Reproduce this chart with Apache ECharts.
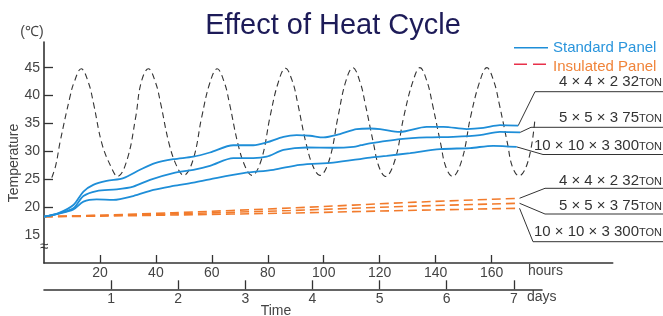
<!DOCTYPE html>
<html>
<head>
<meta charset="utf-8">
<script src="https://cdn.jsdelivr.net/npm/echarts@6/dist/echarts.min.js"></script>
<style>
  html, body { margin: 0; padding: 0; background: #fff; }
  #main { width: 663px; height: 316px; }
</style>
</head>
<body>
<div id="main"></div>
<script>
// outside air temperature cycle [hour, °C]
var cycleTemp = [
  [2.8, 25.3], [4.2, 27.5], [5.8, 31.8], [9.3, 39.8], [10.7, 42.3], [13.3, 44.8],
  [15.9, 42.3], [17.7, 38.6], [20.7, 31.4], [23.9, 27.3], [26.3, 25.5],
  [29.7, 28.5], [32.8, 36.2], [34.7, 42.3], [37.3, 44.8],
  [39.9, 42.3], [41.7, 38.6], [44.7, 31.4], [47.5, 27.3], [49.9, 25.7],
  [53.3, 28.5], [56.4, 36.2], [59.3, 42.3], [61.9, 44.8],
  [64.5, 42.3], [66.3, 38.6], [69.3, 31.4], [71.9, 27.3], [74.3, 25.7],
  [77.7, 28.5], [80.8, 36.2], [83.7, 42.3], [86.3, 44.9],
  [88.9, 42.4], [90.7, 38.6], [93.7, 31.4], [96.2, 27.3], [98.6, 25.7],
  [102.0, 28.5], [105.1, 36.2], [107.8, 42.4], [110.4, 45.0],
  [113.0, 42.4], [114.8, 38.6], [117.8, 31.4], [119.7, 27.3], [122.1, 25.5],
  [125.5, 28.5], [128.6, 36.2], [131.8, 42.4], [134.4, 45.0],
  [137.0, 42.4], [138.8, 38.6], [141.8, 31.4], [143.6, 27.3], [146.0, 25.5],
  [149.4, 28.5], [152.5, 36.2], [155.7, 42.4], [158.3, 45.0],
  [160.9, 42.4], [162.7, 38.6], [165.7, 31.4], [167.4, 27.3], [169.8, 25.6],
  [173.2, 28.5], [175.5, 35.8]
];

// standard panel rooms
var stdSmall = [
  [0, 18.3], [5, 18.9], [10.5, 20.4], [14.1, 22.8], [17.6, 24.0], [22.4, 24.7],
  [28.4, 25.2], [34.3, 26.7], [39.7, 27.9], [46.2, 28.6], [53.4, 29.05], [59.3, 29.8],
  [67.7, 31.1], [74.8, 31.1], [79.6, 31.6], [85.6, 32.6], [90.3, 32.9], [95.1, 32.8],
  [99.9, 32.5], [105.8, 33.1], [111.8, 34.0], [116.6, 34.1], [120.1, 34.0], [127.3, 33.5],
  [136.8, 34.4], [142.8, 34.4], [151.1, 34.0], [157.1, 34.2], [163.0, 34.7], [169.5, 34.6]
];
var stdMid = [
  [0, 18.3], [5, 18.85], [10.5, 19.8], [14.1, 22.0], [18.8, 22.9], [26.0, 23.2],
  [31.9, 23.7], [37.9, 24.9], [46.2, 26.1], [53.4, 26.7], [59.3, 27.4], [67.7, 28.8],
  [74.8, 28.8], [79.6, 29.05], [85.6, 30.25], [93.9, 30.7], [103.4, 30.65], [110.6, 30.8],
  [113.3, 31.1], [117.0, 31.5], [120.1, 31.7], [127.3, 32.2], [136.8, 32.5], [146.3, 32.6],
  [155.8, 32.9], [163.0, 33.5], [170.2, 33.4]
];
var stdLarge = [
  [0, 18.3], [5, 18.8], [10.5, 19.6], [14.1, 21.0], [18.8, 21.4], [24.8, 21.3],
  [31.9, 22.0], [39.1, 23.1], [46.2, 23.8], [53.4, 24.4], [59.3, 25.0], [71.3, 26.1],
  [82.0, 26.7], [91.5, 27.6], [103.4, 28.0], [116.6, 28.9], [122.5, 29.2], [130.9, 29.7],
  [141.6, 30.4], [152.3, 30.6], [160.6, 31.0], [169.0, 30.8]
];

// insulated panel rooms
var insSmall = [[0, 18.3], [20, 18.55], [46, 19.0], [88, 19.85], [133, 20.9], [170, 21.6]];
var insMid   = [[0, 18.3], [20, 18.5], [46, 18.8], [88, 19.4], [133, 20.2], [170, 20.7]];
var insLarge = [[0, 18.3], [20, 18.4], [46, 18.6], [88, 18.95], [133, 19.45], [170, 19.8]];

var sizeLabels = ['4 \u00d7 4 \u00d7 2 32', '5 \u00d7 5 \u00d7 3 75', '10 \u00d7 10 \u00d7 3 300'];
var hourTicks = [20, 40, 60, 80, 100, 120, 140, 160];
var dayTicks = [1, 2, 3, 4, 5, 6, 7];
var tempTicks = [20, 25, 30, 35, 40, 45];
var tempLabels = [15, 20, 25, 30, 35, 40, 45];

var FONT = '"Liberation Sans", Arial, sans-serif';
var AXIS = '#333';
var BLUE = '#1e8ed8';
var ORANGE = '#f27b2c';

var chart = echarts.init(document.getElementById('main'));

function blue(name, data) {
  return {
    name: name, type: 'line', data: data, smooth: 0.3, showSymbol: false,
    xAxisIndex: 0, yAxisIndex: 0, silent: true,
    lineStyle: { color: BLUE, width: 1.8 }
  };
}
function orange(name, data) {
  return {
    name: name, type: 'line', data: data, smooth: 0.3, showSymbol: false,
    xAxisIndex: 0, yAxisIndex: 0, silent: true,
    lineStyle: { color: ORANGE, width: 1.6, type: [9, 5] }
  };
}

chart.setOption({
  animation: false,
  grid: [
    { left: 44, top: 42, width: 568.7, bottom: 53, outerBoundsMode: 'none' },
    { left: 44, width: 498, bottom: 26.7, height: 10, outerBoundsMode: 'none' }
  ],
  xAxis: [{
    gridIndex: 0, type: 'value', min: 0, max: 203.3,
    axisLine: { show: true, lineStyle: { color: AXIS, width: 1.6 } },
    axisTick: { show: true, inside: true, length: 8, customValues: hourTicks, lineStyle: { color: AXIS, width: 1.3 } },
    axisLabel: { customValues: hourTicks, color: '#444', fontSize: 14, fontFamily: FONT, margin: 3 },
    splitLine: { show: false }
  }, {
    gridIndex: 1, type: 'value', min: 0, max: 7.42,
    axisLine: { show: true, lineStyle: { color: AXIS, width: 1.6 } },
    axisTick: { show: true, inside: true, length: 9, customValues: dayTicks, lineStyle: { color: AXIS, width: 1.3 } },
    axisLabel: { customValues: dayTicks, color: '#444', fontSize: 14, fontFamily: FONT, margin: 3 },
    splitLine: { show: false }
  }],
  yAxis: [{
    gridIndex: 0, type: 'value', min: 10, max: 49.6,
    axisLine: { show: true, lineStyle: { color: AXIS, width: 1.6 } },
    axisTick: { show: true, inside: true, length: 9, customValues: tempTicks, lineStyle: { color: AXIS, width: 1.3 } },
    axisLabel: { customValues: tempLabels, color: '#444', fontSize: 14, fontFamily: FONT, margin: 4 },
    splitLine: { show: false }
  }, {
    gridIndex: 1, type: 'value', min: 0, max: 1, show: false
  }],
  series: [
    {
      name: 'cycle', type: 'line', data: cycleTemp, smooth: 0.4, showSymbol: false,
      xAxisIndex: 0, yAxisIndex: 0, silent: true,
      lineStyle: { color: '#333', width: 1.1, type: [6, 4] }
    },
    orange('ins-small', insSmall),
    orange('ins-mid', insMid),
    orange('ins-large', insLarge),
    blue('std-small', stdSmall),
    blue('std-mid', stdMid),
    blue('std-large', stdLarge)
  ]
});

// leader lines from the ends of the curves to the size labels
function endPx(arr) {
  return chart.convertToPixel({ xAxisIndex: 0, yAxisIndex: 0 }, arr[arr.length - 1]);
}
var ends = [stdSmall, stdMid, stdLarge, insSmall, insMid, insLarge].map(endPx);
var bends = [[535, 91.7], [531, 127.3], [543, 154.5], [545, 188.3], [545, 214], [533, 241.7]];
var labelY = [82, 117.5, 146, 181, 206, 232];

function txt(x, y, s, opt) {
  var st = Object.assign({
    text: s, fill: '#444', fontSize: 14, fontFamily: FONT,
    align: 'left', textAlign: 'left', verticalAlign: 'middle', textVerticalAlign: 'middle'
  }, opt || {});
  if (st.align !== 'left') st.textAlign = st.align;
  return { type: 'text', x: x, y: y, silent: true, style: st };
}

var g = [];
g.push(txt(333, 25.5, 'Effect of Heat Cycle', { fill: '#1d1b58', fontSize: 29, align: 'center' }));
g.push(txt(32, 31.7, '(\u2103)', { align: 'center' }));
g.push({ type: 'text', x: 14, y: 163, rotation: Math.PI / 2, silent: true,
  style: { text: 'Temperature', fill: '#444', fontSize: 14, fontFamily: FONT,
    align: 'center', textAlign: 'center', verticalAlign: 'middle', textVerticalAlign: 'middle' } });
g.push(txt(44, 247, '\u2248', { align: 'center', fill: '#333', fontSize: 15 }));
g.push(txt(528, 271, 'hours'));
g.push(txt(527, 297.5, 'days'));
g.push(txt(276, 311, 'Time', { align: 'center' }));

// legend
g.push({ type: 'line', silent: true, shape: { x1: 514, y1: 47.7, x2: 548, y2: 47.7 }, style: { stroke: BLUE, lineWidth: 1.6 } });
g.push({ type: 'line', silent: true, shape: { x1: 514, y1: 64.3, x2: 548, y2: 64.3 }, style: { stroke: '#e8304a', lineWidth: 1.4, lineDash: [13, 6] } });
g.push(txt(553, 48.3, 'Standard Panel', { fill: '#2a95dc', fontSize: 15 }));
g.push(txt(553, 66.7, 'Insulated Panel', { fill: '#f0843a', fontSize: 15 }));

for (var i = 0; i < 6; i++) {
  var e = ends[i], b = bends[i];
  g.push({ type: 'polyline', silent: true,
    shape: { points: [[e[0], e[1]], b, [663, b[1]]] },
    style: { stroke: '#333', lineWidth: 1, fill: null } });
  g.push({ type: 'text', x: 662, y: labelY[i], silent: true,
    style: {
      text: '{a|' + sizeLabels[i % 3] + '}{b|TON}',
      align: 'right', textAlign: 'right', verticalAlign: 'middle', textVerticalAlign: 'middle',
      rich: {
        a: { fontSize: 15, fontFamily: FONT, fill: '#333', color: '#333' },
        b: { fontSize: 11, fontFamily: FONT, fill: '#333', color: '#333', verticalAlign: 'middle', padding: [2.4, 0, 0, 0] }
      }
    } });
}

chart.setOption({ graphic: g });
</script>
</body>
</html>
